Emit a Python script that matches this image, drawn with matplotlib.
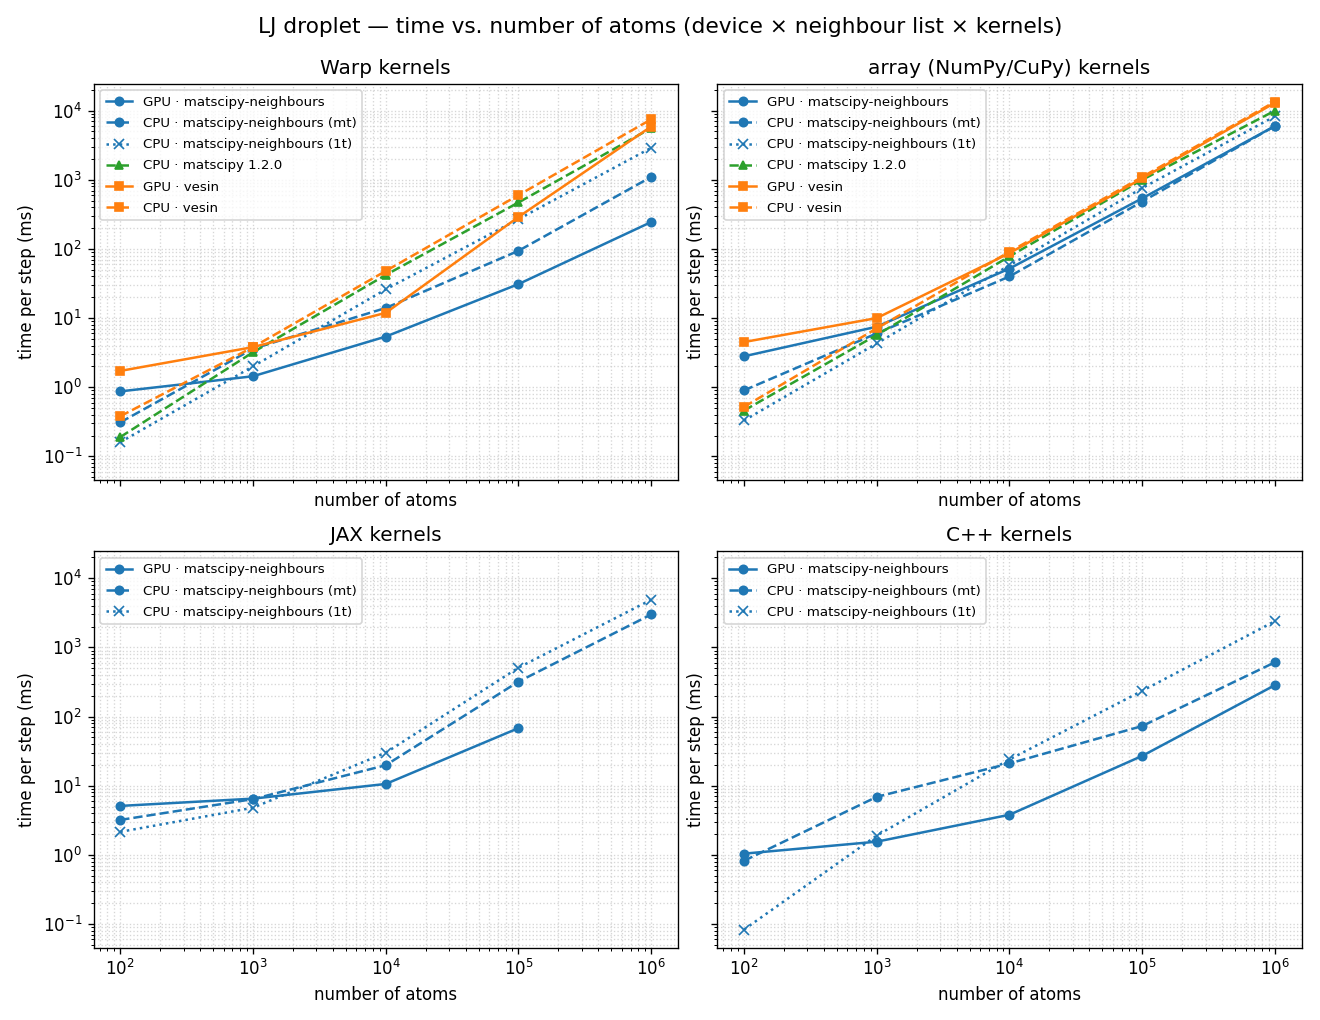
import matplotlib
matplotlib.use("Agg")
import matplotlib.pyplot as plt

atoms = [1e2, 1e3, 1e4, 1e5, 1e6]

# Warp kernels
warp_gpu_ms = [0.87, 1.44, 5.4, 31, 245]
warp_cpu_ms_mt = [0.31, 3.6, 14, 94, 1100]
warp_cpu_ms_1t = [0.16, 2.0, 26, 270, 2900]
warp_cpu_matscipy = [0.19, 3.2, 42, 470, 5600]
warp_gpu_vesin = [1.72, 3.8, 11.9, 290, 5900]
warp_cpu_vesin = [0.38, 3.8, 48, 600, 7500]

# array (NumPy/CuPy) kernels
arr_gpu_ms = [2.8, 7.5, 52, 540, 6000]
arr_cpu_ms_mt = [0.9, 6.0, 40, 484, 6000]
arr_cpu_ms_1t = [0.33, 4.3, 58, 760, 8300]
arr_cpu_matscipy = [0.46, 5.7, 78, 1000, 10000]
arr_gpu_vesin = [4.5, 10, 87, 1050, 13000]
arr_cpu_vesin = [0.52, 7.1, 91, 1100, 13500]

# JAX kernels (GPU has no 1e6 point)
jax_gpu_ms = [5.1, 6.5, 10.6, 68]
jax_cpu_ms_mt = [3.2, 6.4, 19.8, 320, 3000]
jax_cpu_ms_1t = [2.15, 4.8, 30, 510, 4900]

# C++ kernels
cpp_gpu_ms = [1.04, 1.55, 3.8, 27, 285]
cpp_cpu_ms_mt = [0.82, 6.9, 21, 73, 610]
cpp_cpu_ms_1t = [0.083, 1.9, 24, 236, 2400]

labels = ["GPU · matscipy-neighbours", "CPU · matscipy-neighbours (mt)",
          "CPU · matscipy-neighbours (1t)", "CPU · matscipy 1.2.0",
          "GPU · vesin", "CPU · vesin"]

fig, axes = plt.subplots(2, 2, figsize=(11, 8.5), dpi=120, sharex=True, sharey=True)

MS = 5


def style(ax, title):
    ax.set_xscale("log")
    ax.set_yscale("log")
    ax.set_title(title)
    ax.set_xlabel("number of atoms")
    ax.set_ylabel("time per step (ms)")
    ax.grid(True, which="both", ls=":", lw=0.8, color="#cccccc", alpha=0.8)
    ax.legend(loc="upper left", fontsize=8, labelspacing=0.62)


def full(ax, x, g, mt, t1, ms=None, gv=None, cv=None):
    ax.plot(x[:len(g)], g, color="C0", ls="-", marker="o", ms=MS, label=labels[0])
    ax.plot(x[:len(mt)], mt, color="C0", ls="--", marker="o", ms=MS, label=labels[1])
    ax.plot(x[:len(t1)], t1, color="C0", ls=":", marker="x", ms=MS + 1, label=labels[2])
    if ms is not None:
        ax.plot(x, ms, color="C2", ls="--", marker="^", ms=MS, label=labels[3])
        ax.plot(x, gv, color="C1", ls="-", marker="s", ms=MS, label=labels[4])
        ax.plot(x, cv, color="C1", ls="--", marker="s", ms=MS, label=labels[5])


full(axes[0, 0], atoms, warp_gpu_ms, warp_cpu_ms_mt, warp_cpu_ms_1t,
     warp_cpu_matscipy, warp_gpu_vesin, warp_cpu_vesin)
style(axes[0, 0], "Warp kernels")
full(axes[0, 1], atoms, arr_gpu_ms, arr_cpu_ms_mt, arr_cpu_ms_1t,
     arr_cpu_matscipy, arr_gpu_vesin, arr_cpu_vesin)
style(axes[0, 1], "array (NumPy/CuPy) kernels")
full(axes[1, 0], atoms, jax_gpu_ms, jax_cpu_ms_mt, jax_cpu_ms_1t)
style(axes[1, 0], "JAX kernels")
full(axes[1, 1], atoms, cpp_gpu_ms, cpp_cpu_ms_mt, cpp_cpu_ms_1t)
style(axes[1, 1], "C++ kernels")

fig.suptitle("LJ droplet — time vs. number of atoms (device × neighbour list × kernels)",
             fontsize=13, y=0.983)
fig.subplots_adjust(left=0.071, right=0.986, top=0.918, bottom=0.071, wspace=0.068, hspace=0.18)
fig.savefig("out.png", dpi=120)
